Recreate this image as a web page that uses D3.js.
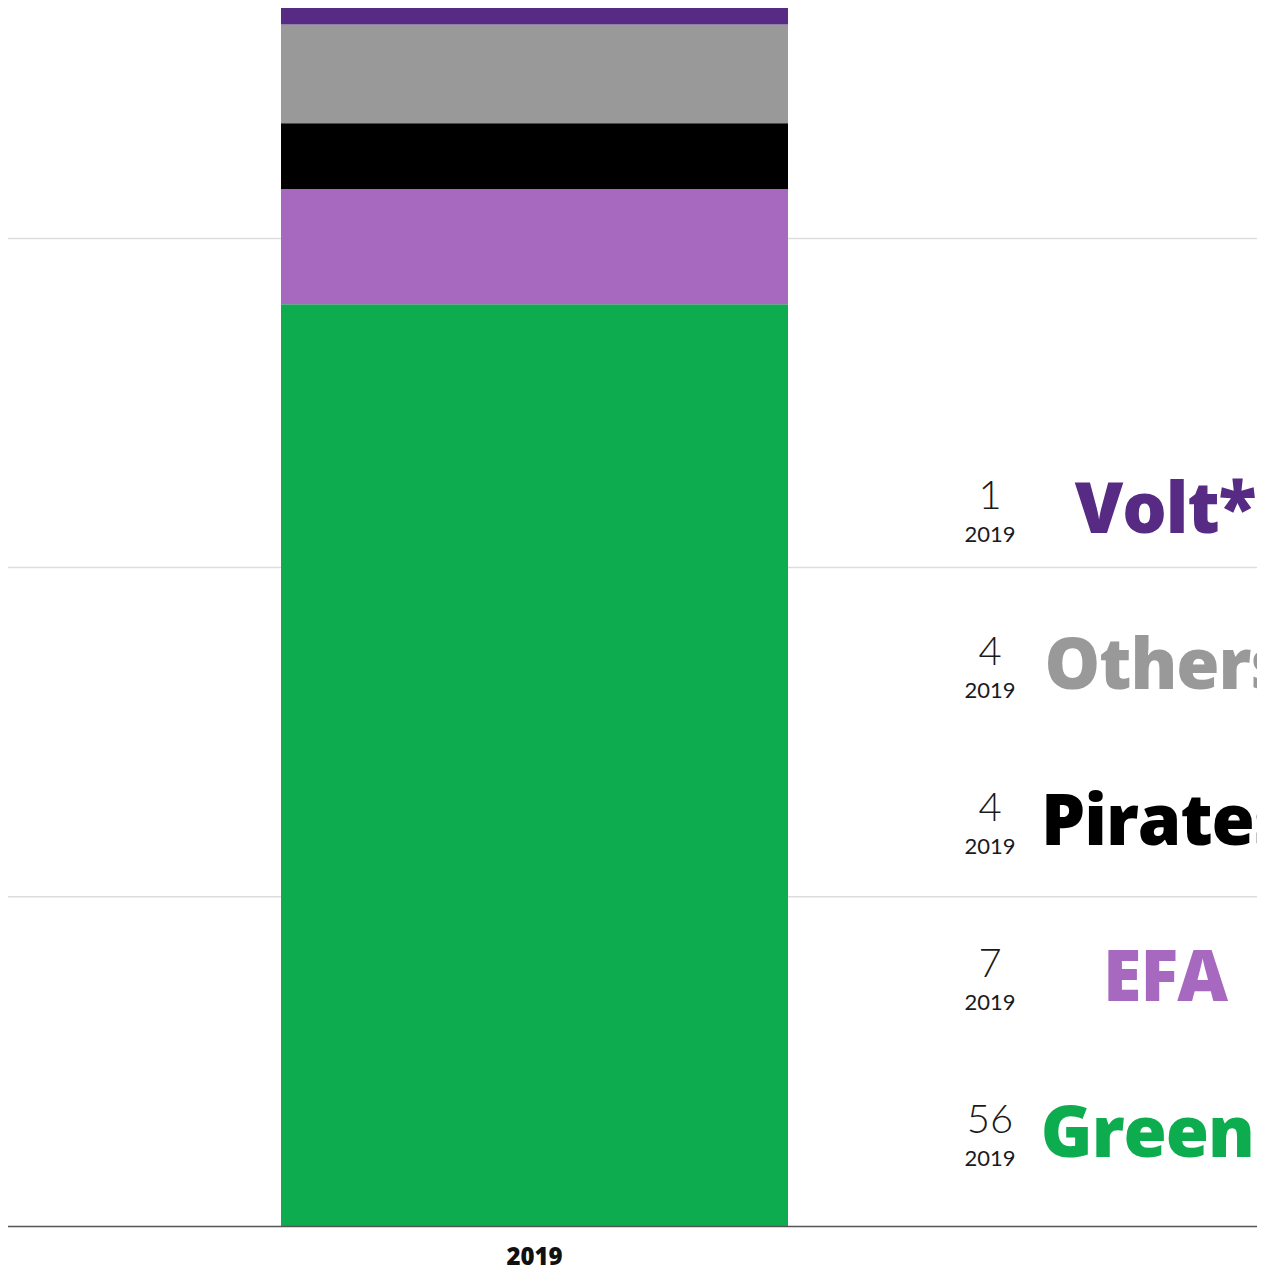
<!DOCTYPE html>
<html>
<head>
<meta charset="utf-8">
<script src="https://cdn.jsdelivr.net/npm/d3@7"></script>
<style>
  html, body { margin: 0; padding: 0; background: #fff; }
  svg { display: block; }
</style>
</head>
<body>
<div id="chart"></div>
<script>
'use strict';

// ── Data ──────────────────────────────────────────────
const YEARS      = ['2019'];
const PARTIES    = ['Greens', 'EFA', 'Pirates', 'Others', 'Volt'];
const NAMES      = ['Greens', 'EFA', 'Pirates', 'Others', 'Volt*'];
const SEATS      = [56, 7, 4, 6, 1];      // bar segment heights as drawn
const LABEL_SEAT = [56, 7, 4, 4, 1];      // numbers printed next to the names
const COLOURS    = ['#0dad4f', '#a768c0', '#000000', '#999999', '#572a84'];
const GRID_TICKS = [20, 40, 60];

// ── Layout ────────────────────────────────────────────
const W = 1277, H = 1274;
const plotLeft = 8, plotRight = 1257, plotTop = 8, plotBottom = 1226;

const svg = d3.select('#chart').append('svg')
  .attr('width', W).attr('height', H);

const total = d3.sum(SEATS);

const y = d3.scaleLinear()
  .domain([0, total])
  .range([plotBottom, plotTop]);

const x = d3.scaleBand()
  .domain(YEARS)
  .range([plotLeft, 1061])
  .paddingInner(0)
  .paddingOuter(0.5385);

// ── Grid lines ────────────────────────────────────────
svg.append('g')
  .selectAll('line')
  .data(GRID_TICKS)
  .join('line')
  .attr('x1', plotLeft).attr('x2', plotRight)
  .attr('y1', d => y(d)).attr('y2', d => y(d))
  .attr('stroke', '#dddddd')
  .attr('stroke-width', 1.5);

// ── Stacked bar ───────────────────────────────────────
const row = { year: '2019' };
PARTIES.forEach((p, i) => { row[p] = SEATS[i]; });

const stack = d3.stack().keys(PARTIES)([row]);

svg.append('g')
  .selectAll('rect')
  .data(stack)
  .join('rect')
  .attr('x', d => x(d[0].data.year))
  .attr('width', x.bandwidth())
  .attr('y', d => y(d[0][1]))
  .attr('height', d => y(d[0][0]) - y(d[0][1]))
  .attr('fill', (d, i) => COLOURS[i]);

// ── Baseline + year label ─────────────────────────────
svg.append('line')
  .attr('x1', plotLeft).attr('x2', plotRight)
  .attr('y1', plotBottom + 0.5).attr('y2', plotBottom + 0.5)
  .attr('stroke', '#555')
  .attr('stroke-width', 1.5);

svg.append('g')
  .selectAll('text')
  .data(YEARS)
  .join('text')
  .attr('x', d => x(d) + x.bandwidth() / 2)
  .attr('y', 1265)
  .attr('text-anchor', 'middle')
  .attr('font-family', '"Open Sans", sans-serif')
  .attr('font-weight', 800)
  .attr('font-size', 24)
  .attr('fill', '#111')
  .text(d => d);

// ── Legend on the right (clipped at the chart edge, as in the original) ──
svg.append('clipPath').attr('id', 'legend-clip')
  .append('rect')
  .attr('x', 900).attr('y', 0)
  .attr('width', plotRight - 900).attr('height', H);

const legend = svg.append('g').attr('clip-path', 'url(#legend-clip)');

const nameBoxLeft = 1040, nameBoxCenter = 1165, numCenter = 990;
const firstBaseline = 1157, rowStep = 156;

PARTIES.forEach((p, i) => {
  const base = firstBaseline - i * rowStep;
  const g = legend.append('g');

  const name = g.append('text')
    .attr('y', base)
    .attr('font-family', '"Open Sans", sans-serif')
    .attr('font-weight', 800)
    .attr('font-size', 70)
    .attr('letter-spacing', -1)
    .attr('fill', COLOURS[i])
    .text(NAMES[i]);
  const w = name.node().getComputedTextLength();
  name.attr('x', Math.max(nameBoxLeft, nameBoxCenter - w / 2));

  g.append('text')
    .attr('x', numCenter)
    .attr('y', base - 24)
    .attr('text-anchor', 'middle')
    .attr('font-family', 'Lato, sans-serif')
    .attr('font-weight', 300)
    .attr('font-size', 40)
    .attr('fill', '#1a1a1a')
    .text(LABEL_SEAT[i]);

  g.append('text')
    .attr('x', numCenter)
    .attr('y', base + 9)
    .attr('text-anchor', 'middle')
    .attr('font-family', 'Lato, sans-serif')
    .attr('font-weight', 400)
    .attr('font-size', 22)
    .attr('fill', '#1a1a1a')
    .text(YEARS[0]);
});
</script>
</body>
</html>
